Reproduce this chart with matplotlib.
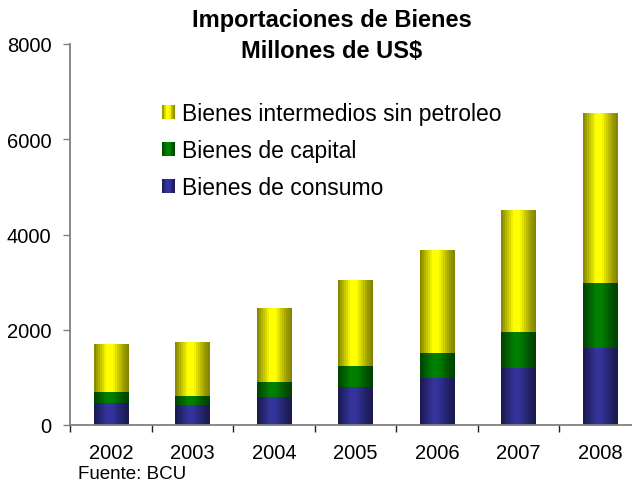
import matplotlib
matplotlib.use('Agg')
import matplotlib.pyplot as plt
import numpy as np
from matplotlib.legend_handler import HandlerBase
from matplotlib.patches import Patch, Rectangle

years = ['2002', '2003', '2004', '2005', '2006', '2007', '2008']
consumo = [463, 421, 590, 806, 989, 1200, 1621]
capital = [232, 189, 315, 436, 527, 758, 1368]
intermedios = [1010, 1137, 1558, 1810, 2168, 2547, 3558]

series_names = ['Bienes de consumo', 'Bienes de capital', 'Bienes intermedios sin petroleo']
bright = {
    'Bienes de consumo': (0.2, 0.2, 0.6),
    'Bienes de capital': (0.0, 0.5, 0.0),
    'Bienes intermedios sin petroleo': (1.0, 1.0, 0.0),
}

plt.rcParams['font.family'] = ['Liberation Sans', 'DejaVu Sans']

# horizontal "cylinder" shading, banded like the old spreadsheet fill
stops_t = [0, 0.1, 0.25, 0.35, 0.55, 0.7, 0.85, 1.0]
stops_f = [0.5, 0.65, 0.85, 1.0, 1.0, 0.8, 0.62, 0.5]
n_bands = 18
band_t = (np.arange(n_bands) + 0.5) / n_bands
band_f = np.interp(band_t, stops_t, stops_f)


def shaded(color):
    return np.array([[np.array(color) * f for f in band_f]])


class GradientHandler(HandlerBase):
    def create_artists(self, legend, orig_handle, xdescent, ydescent, width, height, fontsize, trans):
        col = orig_handle.get_facecolor()[:3]
        arts = []
        n = 6
        for i in range(n):
            f = np.interp((i + 0.5) / n, stops_t, stops_f)
            r = Rectangle((-xdescent + i * width / n, -ydescent), width / n, height,
                          facecolor=np.array(col) * f, edgecolor='none', transform=trans)
            arts.append(r)
        return arts


fig = plt.figure(figsize=(6.32, 4.85), dpi=100)
ax = fig.add_axes([70 / 632, 59 / 485, 1 - 70 / 632, (426 - 45) / 485])

x = np.arange(len(years))
width = 0.42
bottom = np.zeros(len(years))
for name, vals in zip(series_names, [consumo, capital, intermedios]):
    bars = ax.bar(x, vals, width, bottom=bottom, color=bright[name], edgecolor='none', label=name)
    img = shaded(bright[name])
    for b in bars:
        bx, by = b.get_x(), b.get_y()
        im = ax.imshow(img, extent=[bx, bx + b.get_width(), by, by + b.get_height()],
                       aspect='auto', interpolation='nearest', zorder=2)
        im.set_clip_path(b)
    bottom += np.array(vals)

ax.set_xlim(-0.5, 6.39)
ax.set_ylim(0, 8000)
ax.set_yticks([0, 2000, 4000, 6000, 8000])
ax.set_xticks(x)
ax.set_xticklabels(years)
ax.set_xticks(np.arange(-0.5, 6.5, 1), minor=True)
ax.tick_params(axis='x', which='major', length=0, pad=13, labelsize=14.5)
ax.tick_params(axis='x', which='minor', length=5, color='#202020', width=1)
ax.tick_params(axis='y', length=5, color='#808080', pad=8.5, labelsize=14.5, width=1)
for s in ['top', 'right']:
    ax.spines[s].set_visible(False)
for s in ['left', 'bottom']:
    ax.spines[s].set_color('#808080')
    ax.spines[s].set_linewidth(1.3)

fig.text(332 / 632, 1 - 21 / 485, 'Importaciones de Bienes', ha='center', va='center',
         fontsize=17, fontweight='bold')
fig.text(332 / 632, 1 - 52 / 485, 'Millones de US$', ha='center', va='center',
         fontsize=17, fontweight='bold')
fig.text(78 / 632, 1 - 475 / 485, 'Fuente: BCU', ha='left', va='center', fontsize=13.5)

handles = [Patch(facecolor=bright[n]) for n in reversed(series_names)]
ax.legend(handles, list(reversed(series_names)), handler_map={Patch: GradientHandler()},
          loc='upper left', bbox_to_anchor=(162 / 632, 1 - 103 / 485), bbox_transform=fig.transFigure,
          frameon=False, fontsize=16.5, borderpad=0, borderaxespad=0, handlelength=0.57,
          handleheight=0.57, handletextpad=0.32, labelspacing=0.62)

fig.savefig('out.png', dpi=100)
